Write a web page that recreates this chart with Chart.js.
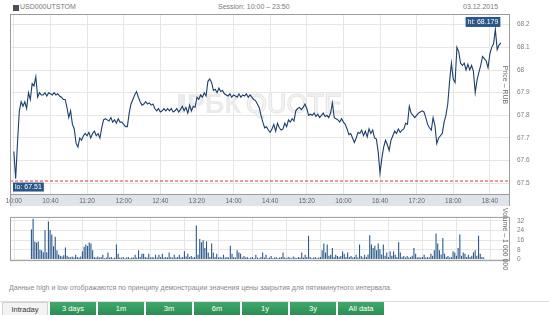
<!DOCTYPE html>
<html><head><meta charset="utf-8">
<script src="https://cdn.jsdelivr.net/npm/chart.js@4"></script>
<style>
body{margin:0;width:549px;height:315px;overflow:hidden;background:#fff;position:relative;font-family:"Liberation Sans",Arial,sans-serif;}
.abs{position:absolute;white-space:nowrap;}
canvas{position:absolute;left:0;}
#icon{left:13px;top:5px;width:6px;height:6px;background:#4b5058;}
#ticker{left:20px;top:3px;font-size:7px;color:#7a7a7a;}
#session{left:218px;top:3px;font-size:7px;color:#7a7a7a;}
#date{left:463px;top:3px;font-size:7px;color:#7a7a7a;}
#note{left:9px;top:284px;font-size:7px;color:#8a8a8a;}
#sep{left:0;top:301px;width:549px;height:1px;background:#dedede;}
.btn{position:absolute;top:302px;height:14px;width:46px;line-height:13px;text-align:center;font-size:7.5px;color:#fff;background:linear-gradient(#41a96c,#2a8a52);}
.btn.cur{background:#f3f3f3;color:#333;border:1px solid #d0d0d0;border-bottom:none;height:13px;width:44px;}
</style></head>
<body>
<div class="abs" id="icon"></div>
<div class="abs" id="ticker">USD000UTSTOM</div>
<div class="abs" id="session">Session: 10:00 – 23:50</div>
<div class="abs" id="date">03.12.2015</div>
<canvas id="price" width="549" height="206" style="top:0"></canvas>
<canvas id="vol" width="549" height="66" style="top:206px"></canvas>
<div class="abs" id="note">Данные high и low отображаются по принципу демонстрации значения цены закрытия для пятиминутного интервала.</div>
<div class="abs" id="sep"></div>
<div id="btns"></div>
<script>
const stepMinutes = 2;
const xTickLabels = ['10:00','10:40','11:20','12:00','12:40','13:20','14:00','14:40','15:20','16:00','16:40','17:20','18:00','18:40'];
const xTickStepMinutes = 40;
const priceTicks = [67.5,67.6,67.7,67.8,67.9,68.0,68.1,68.2];
const priceTickLabels = ['67.5','67.6','67.7','67.8','67.9','68','68.1','68.2'];
const volumeTicks = [0,8,16,24,32];
const volumeTickLabels = ['0','8','16','24','32'];
const highValue = 68.179;
const lowValue = 67.51;
const rangeButtons = ['Intraday','3 days','1m','3m','6m','1y','3y','All data'];

const price = [
67.64,67.52,67.68,67.82,67.86,67.84,67.86,67.83,67.90,67.87,
67.94,67.93,67.97,67.88,67.90,67.89,67.89,67.90,67.885,67.90,
67.895,67.89,67.90,67.89,67.895,67.885,67.88,67.87,67.87,67.835,
67.79,67.82,67.76,67.74,67.676,67.66,67.70,67.69,67.71,67.72,
67.71,67.725,67.70,67.72,67.73,67.71,67.72,67.70,67.745,67.78,
67.785,67.78,67.775,67.79,67.77,67.78,67.765,67.785,67.77,67.77,
67.76,67.75,67.75,67.81,67.85,67.87,67.89,67.905,67.88,67.86,
67.845,67.85,67.86,67.85,67.855,67.845,67.85,67.83,67.82,67.83,
67.815,67.82,67.83,67.82,67.83,67.82,67.83,67.815,67.82,67.83,
67.815,67.825,67.84,67.82,67.835,67.81,67.845,67.82,67.84,67.835,
67.88,67.87,67.89,67.88,67.90,67.885,67.95,67.96,67.945,67.91,
67.915,67.90,67.92,67.905,67.91,67.895,67.89,67.885,67.895,67.88,
67.89,67.885,67.88,67.895,67.88,67.89,67.885,67.895,67.88,67.89,
67.88,67.87,67.865,67.85,67.835,67.80,67.77,67.745,67.75,67.735,
67.725,67.74,67.76,67.73,67.765,67.745,67.735,67.74,67.765,67.75,
67.78,67.77,67.785,67.775,67.82,67.83,67.835,67.825,67.835,67.85,
67.83,67.80,67.805,67.80,67.81,67.795,67.805,67.79,67.80,67.81,
67.795,67.80,67.79,67.81,67.855,67.79,67.785,67.78,67.77,67.785,
67.77,67.76,67.74,67.715,67.72,67.70,67.68,67.70,67.725,67.72,
67.735,67.71,67.73,67.705,67.74,67.72,67.735,67.70,67.695,67.64,
67.545,67.61,67.66,67.69,67.67,67.645,67.69,67.71,67.73,67.72,
67.74,67.725,67.735,67.74,67.765,67.76,67.84,67.81,67.80,67.79,
67.80,67.81,67.815,67.82,67.815,67.79,67.76,67.745,67.735,67.79,
67.755,67.675,67.70,67.71,67.72,67.77,67.80,67.85,67.95,68.03,
67.96,67.945,68.10,68.08,68.03,68.02,68.03,68.00,68.025,68.00,
68.02,67.995,67.90,67.955,67.99,68.02,68.06,68.05,68.04,68.01,
68.07,68.10,68.115,68.179,68.09,68.11,68.12
];

const volume = [
25,33.8,15,14,15,8,7.6,6,24.4,6,
31.5,24.4,20.7,11,18.8,7.6,4,3,2.5,3.5,
10,3,2,1.8,2.5,1.5,3.9,2,1.5,2.5,
6.7,10.5,12.4,11.3,14,13.2,7.6,2,1.5,2.5,
1.5,2,3.9,1,1.5,5.7,1.5,2,1,1.5,
12.4,4.8,1.5,1.5,2,1,1.5,2,1,1.5,
1.5,3.9,1.5,7.6,2,4.8,4.8,2,1.5,4.8,
1.5,2,1.5,3.9,1.5,3.9,2,4.8,1.5,2,
1.5,5.7,2,1.5,3.9,1.5,2,3.9,1.5,2,
6.7,2.5,4.8,2,2.9,1.5,2,28.2,3.9,17,
14.2,16,9.5,15,5.7,2,13.2,5.7,2,4.8,
1.5,2,1.5,3.9,1.5,2,1.5,11.3,4.8,2,
1.5,7.6,5.7,4.8,1.5,2.9,1.5,2,1,1.5,
2,1,3.9,1.5,1,2,5.7,1.5,3.9,1,
1.5,2.9,1,1.5,2,1,1.5,2,5.7,1.5,
1,2,1.5,1,2.5,1.5,1,2,1.5,5.7,
1.5,3.9,2,19.7,2,1,1.5,2,1,1.5,
2,7.6,13.2,5.7,12.4,3,3.9,9.5,2,3.9,
2.9,2,2.9,6.7,4.8,2,5.7,2,2.9,1.5,
2,3.9,1.5,12.4,2.9,1.5,3.9,2,4,20.2,
12.4,9.5,11.3,7.6,13.2,8.5,4,12.4,3,5.7,
2,6.7,3,6.7,3.9,2,14.2,5.7,2,2.9,
1.5,2.9,1.5,2,3,9.5,4.8,1.5,2,1.5,
2,3.9,1.5,2,1.5,4.8,3,7.6,21.6,13.2,
7.6,4,17.9,4.8,2,2.9,1.5,2,6.7,5.7,
3,9.5,20.7,3,5.7,4.8,2,3.9,2,3,
5.7,7.6,3,19.7,4.8,2,1.5
];

// axis ranges (plot frame geometry)
const xMin = -4.2, xMax = 542;
const priceMin = 67.4528, priceMax = 68.2472;
const volMin = -1.416, volMax = 35.4;
const FONT = '"Liberation Sans", Arial, sans-serif';
const GRID = '#e6e6e6';
const FRAME = '#9c9c9c';

// buttons
const btnWrap = document.getElementById('btns');
rangeButtons.forEach((t,i)=>{
  const d=document.createElement('div');
  d.className='btn'+(i===0?' cur':'');
  d.style.left=(i===0?2:50+48*(i-1))+'px';
  d.textContent=t;
  btnWrap.appendChild(d);
});

function rotatedTitle(ctx, text, x, y){
  ctx.save();
  ctx.translate(x,y);
  ctx.rotate(Math.PI/2);
  ctx.font='7px '+FONT;
  ctx.fillStyle='#6a6a6a';
  ctx.textAlign='center';
  ctx.textBaseline='middle';
  ctx.fillText(text,0,0);
  ctx.restore();
}

const pricePlugin = {
  id:'pricePlugin',
  beforeDraw(chart){
    const {ctx, chartArea:a} = chart;
    ctx.save();
    ctx.fillStyle='#dfe4ea';
    ctx.fillRect(a.left, a.bottom, a.right-a.left, 12);
    ctx.restore();
  },
  beforeDatasetsDraw(chart){
    const {ctx} = chart;
    ctx.save();
    ctx.font='bold 27px '+FONT;
    ctx.textBaseline='alphabetic';
    ctx.fillStyle='#ebebeb';
    ctx.fillRect(178,94,7,19);
    ctx.fillText('РБК',187,113);
    ctx.font='27px '+FONT;
    ctx.strokeStyle='#e4e4e4';
    ctx.lineWidth=1;
    ctx.fillStyle='#f6f6f6';
    ctx.fillText('QUOTE',246,113);
    ctx.strokeText('QUOTE',246,113);
    ctx.restore();
  },
  afterDraw(chart){
    const {ctx, chartArea:a, scales} = chart;
    ctx.save();
    ctx.strokeStyle=FRAME; ctx.lineWidth=1;
    ctx.strokeRect(a.left+0.5, a.top+0.5, a.right-a.left-1, a.bottom-a.top);
    ctx.beginPath();
    ctx.moveTo(a.left+0.5, a.bottom); ctx.lineTo(a.left+0.5, a.bottom+12);
    ctx.moveTo(a.right-0.5, a.bottom); ctx.lineTo(a.right-0.5, a.bottom+12);
    ctx.stroke();
    // lo label
    ctx.font='7px '+FONT;
    ctx.textBaseline='middle';
    const loTxt='lo: '+lowValue;
    const loW=ctx.measureText(loTxt).width+4;
    const loY=scales.y.getPixelForValue(lowValue)+1.5;
    ctx.fillStyle='#2b5788';
    ctx.fillRect(a.left+3, loY, loW, 9);
    ctx.fillStyle='#fff';
    ctx.fillText(loTxt, a.left+5, loY+5);
    // hi label
    const hiIdx = price.indexOf(Math.max(...price));
    const hiTxt='hi: '+highValue;
    const hiW=ctx.measureText(hiTxt).width+4;
    const hx=scales.x.getPixelForValue(hiIdx*stepMinutes)+5;
    const hy=scales.y.getPixelForValue(highValue)-12.5;
    ctx.fillStyle='#2b5788';
    ctx.fillRect(hx-hiW, hy, hiW, 10);
    ctx.fillStyle='#fff';
    ctx.fillText(hiTxt, hx-hiW+2, hy+5.5);
    rotatedTitle(ctx,'Price – RUB',505,85);
    ctx.restore();
  }
};

const volPlugin = {
  id:'volPlugin',
  afterDraw(chart){
    const {ctx, chartArea:a} = chart;
    ctx.save();
    ctx.strokeStyle=FRAME; ctx.lineWidth=1;
    ctx.strokeRect(a.left+0.5, a.top+0.5, a.right-a.left-1, a.bottom-a.top-1);
    rotatedTitle(ctx,'Volume – 1 000 000',505,(a.top+a.bottom)/2);
    ctx.restore();
  }
};

const xAxisCommon = {
  type:'linear', min:xMin, max:xMax,
  afterBuildTicks:(ax)=>{ ax.ticks = xTickLabels.map((l,i)=>({value:i*xTickStepMinutes})); },
  grid:{color:GRID, drawTicks:false},
  border:{display:false}
};

new Chart(document.getElementById('price'), {
  type:'line',
  data:{datasets:[
    {data: price.map((v,i)=>({x:i*stepMinutes, y:v})), borderColor:'#1d3f69', borderWidth:1.1, pointRadius:0, tension:0},
    {data: [{x:xMin,y:lowValue},{x:xMax,y:lowValue}], borderColor:'#e2363a', borderWidth:1, borderDash:[3,2], pointRadius:0}
  ]},
  options:{
    responsive:false, animation:false, devicePixelRatio:1,
    layout:{padding:{left:10, top:14, right:0, bottom:0}},
    plugins:{legend:{display:false}, tooltip:{enabled:false}},
    scales:{
      x:Object.assign({}, xAxisCommon, {
        afterFit:(s)=>{ s.height=12; },
        ticks:{padding:3, font:{size:6.5, family:FONT}, color:'#666', maxRotation:0, autoSkip:false,
          callback:(v,i)=>xTickLabels[i]}
      }),
      y:{position:'right', min:priceMin, max:priceMax,
        afterBuildTicks:(ax)=>{ ax.ticks = priceTicks.map(v=>({value:v})); },
        afterFit:(s)=>{ s.width=39; },
        grid:{color:GRID, drawTicks:false}, border:{display:false},
        ticks:{padding:7, font:{size:6.5, family:FONT}, color:'#808080', callback:(v,i)=>priceTickLabels[i]}
      }
    }
  },
  plugins:[pricePlugin]
});

new Chart(document.getElementById('vol'), {
  type:'bar',
  data:{datasets:[
    {data: volume.map((v,i)=>({x:i*stepMinutes, y:v})), backgroundColor:'#2d5a8b', borderWidth:0, barPercentage:0.65, categoryPercentage:1}
  ]},
  options:{
    responsive:false, animation:false, devicePixelRatio:1,
    layout:{padding:{left:10, top:0, right:0, bottom:1}},
    plugins:{legend:{display:false}, tooltip:{enabled:false}},
    scales:{
      x:Object.assign({}, xAxisCommon, {
        afterFit:(s)=>{ s.height=0; },
        ticks:{display:false}
      }),
      y:{position:'right', min:volMin, max:volMax,
        afterBuildTicks:(ax)=>{ ax.ticks = volumeTicks.map(v=>({value:v})); },
        afterFit:(s)=>{ s.width=39; },
        grid:{color:GRID, drawTicks:false}, border:{display:false},
        ticks:{padding:7, font:{size:6.5, family:FONT}, color:'#808080', callback:(v,i)=>volumeTickLabels[i]}
      }
    }
  },
  plugins:[volPlugin]
});
</script>
</body></html>
